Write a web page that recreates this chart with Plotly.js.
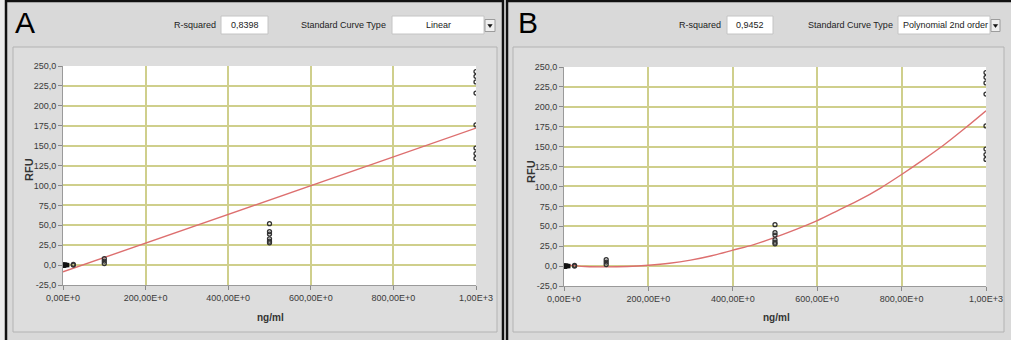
<!DOCTYPE html>
<html><head><meta charset="utf-8">
<script src="https://cdn.plot.ly/plotly-3.0.1.min.js"></script>
<style>html,body{margin:0;padding:0;background:#ececec;}#chart{width:1011px;height:340px;}</style>
</head><body><div id="chart"></div>
<script>
// ---- data ----
const blankConc = [0, 0, 0, 2, 2, 5, 5, 10];
const blankRfu  = [0, -0.5, 0.5, 0, -0.5, 0, 0.5, 0];
const stdConc = [25, 25, 100, 100, 100, 500, 500, 500, 500, 500, 500, 1000, 1000, 1000, 1000, 1000, 1000, 1000, 1000];
const stdRfu  = [0, 1, 2, 5, 8, 52, 42, 39, 33, 30, 28, 243, 237, 230, 216, 176, 147, 140, 134];
const linearFitConc = [0, 1000];
const linearFitRfu  = [-8.5, 172];
const polyFitConc = [0, 50, 100, 150, 200, 250, 300, 350, 400, 450, 500, 550, 600, 650, 700, 750, 800, 850, 900, 950, 1000];
const polyFitRfu  = [1.5, -0.5, -1, -0.5, 1, 3.5, 7.5, 13, 20, 27, 36, 46, 57, 70, 83, 98, 115, 133, 152, 173, 195];
const yTickVals = [-25, 0, 25, 50, 75, 100, 125, 150, 175, 200, 225, 250];
const yTickText = ['-25,0', '0,0', '25,0', '50,0', '75,0', '100,0', '125,0', '150,0', '175,0', '200,0', '225,0', '250,0'];
const xTickVals = [0, 200, 400, 600, 800, 1000];
const xTickText = ['0,00E+0', '200,00E+0', '400,00E+0', '600,00E+0', '800,00E+0', '1,00E+3'];
const panelLetters = ['A', 'B'];
const rSquaredValues = ['0,8398', '0,9452'];
const curveTypes = ['Linear', 'Polynomial 2nd order'];
const xTitle = 'ng/ml';
const yTitle = 'RFU';

// ---- layout helpers ----
const W = 1011, H = 340;
const px = x => x / W;
const py = y => 1 - y / H;
const FONT = 'Liberation Sans, Arial, sans-serif';

const fitX = [linearFitConc, polyFitConc];
const fitY = [linearFitRfu, polyFitRfu];

const geo = [
  {plotL: 63,  plotR: 476, plotT: 66, plotB: 285, panelL: 6,   panelR: 503,  frameL: 13,  frameR: 497,
   rLblR: 218, rBoxL: 221, rBoxR: 268, tLblR: 388, tBoxL: 392, tBoxR: 484, btnL: 484, btnR: 495, typeAlign: 'center',
   letterX: 13, rfuX: 29, rfuY: 170},
  {plotL: 564, plotR: 986, plotT: 67, plotB: 286, panelL: 507, panelR: 1013, frameL: 513, frameR: 1004,
   rLblR: 723, rBoxL: 727, rBoxR: 773, tLblR: 895, tBoxL: 898, tBoxR: 990, btnL: 990, btnR: 1000, typeAlign: 'left',
   letterX: 516, rfuX: 531, rfuY: 172}
];

const traces = [];
const layout = {
  width: W, height: H,
  margin: {l: 0, r: 0, t: 0, b: 0, pad: 0},
  paper_bgcolor: '#ececec',
  plot_bgcolor: 'rgba(0,0,0,0)',
  showlegend: false,
  font: {family: FONT, size: 9, color: '#333'},
  shapes: [],
  annotations: []
};

geo.forEach((g, i) => {
  const s = i === 0 ? '' : '2';
  const xa = 'x' + s, ya = 'y' + s;
  traces.push({x: fitX[i], y: fitY[i], xaxis: xa, yaxis: ya, type: 'scatter', mode: 'lines',
    line: {color: '#dd6f6f', width: 1.4, shape: 'spline', smoothing: 0.8}, hoverinfo: 'skip'});
  traces.push({x: blankConc, y: blankRfu, xaxis: xa, yaxis: ya, type: 'scatter', mode: 'markers',
    marker: {symbol: 'square', size: 4.5, color: '#111'}});
  traces.push({x: stdConc, y: stdRfu, xaxis: xa, yaxis: ya, type: 'scatter', mode: 'markers',
    marker: {symbol: 'circle-open', size: 4, color: '#333', line: {width: 1.3, color: '#333'}}});

  const axCommon = {fixedrange: true, zeroline: false, showline: true, linecolor: '#9a9a9a', linewidth: 1,
    ticks: 'outside', ticklen: 4, tickcolor: '#8a8a8a', tickwidth: 1,
    showgrid: true, gridcolor: '#cfcf8c', gridwidth: 2,
    tickfont: {family: FONT, size: 9, color: '#3a3a3a'}};
  layout['xaxis' + s] = Object.assign({}, axCommon, {
    domain: [px(g.plotL), px(g.plotR)], range: [0, 1000], anchor: ya,
    tickmode: 'array', tickvals: xTickVals, ticktext: xTickText});
  layout['yaxis' + s] = Object.assign({}, axCommon, {
    domain: [py(g.plotB), py(g.plotT)], range: [-25, 250], anchor: xa,
    tickmode: 'array', tickvals: yTickVals, ticktext: yTickText});

  layout.shapes.push({type: 'rect', xref: 'paper', yref: 'paper', layer: 'below',
    x0: px(g.panelL), x1: px(g.panelR), y0: py(1), y1: py(345),
    fillcolor: '#d9d9d9', line: {color: '#111', width: 2.5}});
  layout.shapes.push({type: 'rect', xref: 'paper', yref: 'paper', layer: 'below',
    x0: px(g.frameL), x1: px(g.frameR), y0: py(47), y1: py(332),
    fillcolor: '#dddddd', line: {color: '#b3b3b3', width: 1}});
  layout.shapes.push({type: 'rect', xref: xa + ' domain', yref: ya + ' domain', layer: 'below',
    x0: 0, x1: 1, y0: 0, y1: 1, fillcolor: '#ffffff', line: {width: 0}});
  layout.shapes.push({type: 'rect', xref: 'paper', yref: 'paper', layer: 'above',
    x0: px(g.rBoxL), x1: px(g.rBoxR), y0: py(16), y1: py(34),
    fillcolor: '#ffffff', line: {color: '#c4c4c4', width: 1}});
  layout.shapes.push({type: 'rect', xref: 'paper', yref: 'paper', layer: 'above',
    x0: px(g.tBoxL), x1: px(g.tBoxR), y0: py(16), y1: py(34),
    fillcolor: '#ffffff', line: {color: '#c4c4c4', width: 1}});
  layout.shapes.push({type: 'rect', xref: 'paper', yref: 'paper', layer: 'above',
    x0: px(g.btnL + 1), x1: px(g.btnR), y0: py(19.5), y1: py(31.5),
    fillcolor: '#efefef', line: {color: '#9c9c9c', width: 1}});
  const cx = (g.btnL + 1 + g.btnR) / 2;
  layout.shapes.push({type: 'path', xref: 'paper', yref: 'paper', layer: 'above',
    path: `M ${px(cx - 2.2)},${py(24.5)} L ${px(cx + 2.2)},${py(24.5)} L ${px(cx)},${py(27.5)} Z`,
    fillcolor: '#111', line: {color: '#111', width: 0.5}});

  layout.annotations.push({text: panelLetters[i], xref: 'paper', yref: 'paper', x: px(g.letterX), y: py(23),
    xanchor: 'left', yanchor: 'middle', showarrow: false, font: {family: FONT, size: 30, color: '#000'}});
  layout.annotations.push({text: 'R-squared', xref: 'paper', yref: 'paper', x: px(g.rLblR), y: py(25),
    xanchor: 'right', yanchor: 'middle', showarrow: false, font: {family: FONT, size: 9, color: '#222'}});
  layout.annotations.push({text: rSquaredValues[i], xref: 'paper', yref: 'paper', x: px((g.rBoxL + g.rBoxR) / 2), y: py(25),
    xanchor: 'center', yanchor: 'middle', showarrow: false, font: {family: FONT, size: 9, color: '#222'}});
  layout.annotations.push({text: 'Standard Curve Type', xref: 'paper', yref: 'paper', x: px(g.tLblR), y: py(25),
    xanchor: 'right', yanchor: 'middle', showarrow: false, font: {family: FONT, size: 9, color: '#222'}});
  layout.annotations.push({text: curveTypes[i], xref: 'paper', yref: 'paper',
    x: g.typeAlign === 'center' ? px((g.tBoxL + g.btnL) / 2) : px(g.tBoxL + 3), y: py(25),
    xanchor: g.typeAlign, yanchor: 'middle', showarrow: false, font: {family: FONT, size: 9, color: '#222'}});
  layout.annotations.push({text: '<b>' + xTitle + '</b>', xref: 'paper', yref: 'paper',
    x: px((g.plotL + g.plotR) / 2 + 1), y: py(317), xanchor: 'center', yanchor: 'middle', showarrow: false,
    font: {family: FONT, size: 10, color: '#333'}});
  layout.annotations.push({text: '<b>' + yTitle + '</b>', xref: 'paper', yref: 'paper',
    x: px(g.rfuX), y: py(g.rfuY), xanchor: 'center', yanchor: 'middle', textangle: -90, showarrow: false,
    font: {family: FONT, size: 11, color: '#333'}});
});

Plotly.newPlot('chart', traces, layout, {staticPlot: true, displayModeBar: false});
</script>
</body></html>
